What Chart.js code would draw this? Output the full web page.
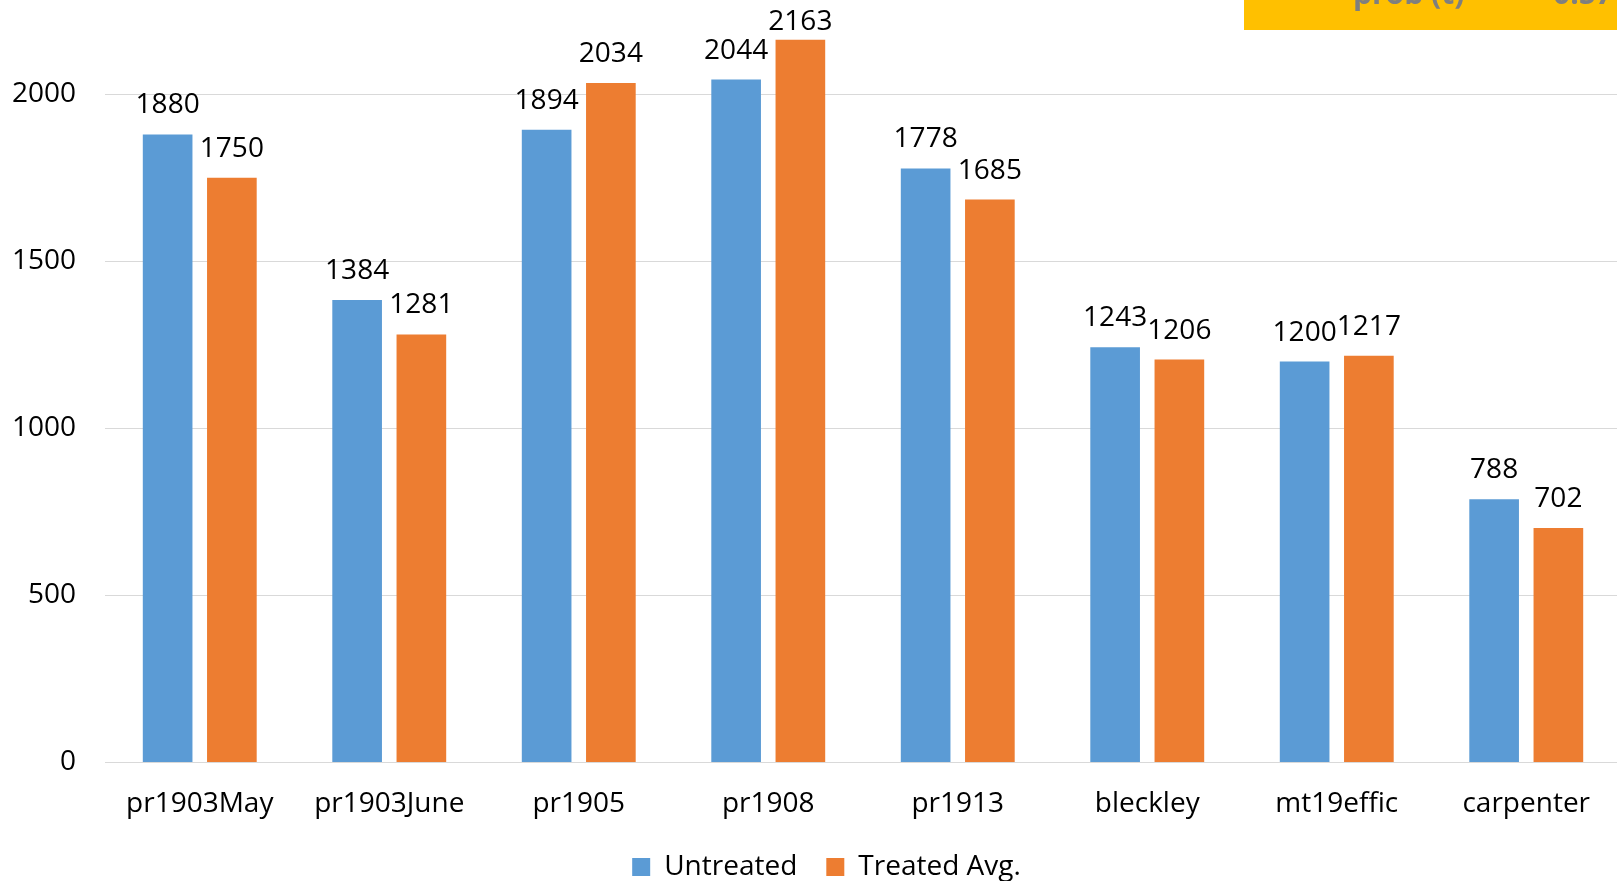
<!DOCTYPE html>
<html>
<head>
<meta charset="utf-8">
<script src="https://cdn.jsdelivr.net/npm/chart.js@4.4.1/dist/chart.umd.min.js"></script>
<style>
  html, body { margin: 0; padding: 0; background: #fff; overflow: hidden; }
  #wrap { position: relative; width: 1621px; height: 913px; }
</style>
</head>
<body>
<div id="wrap"><canvas id="grafica"></canvas></div>
<script>
// datos de cada ensayo
const ensayos = ['pr1903May', 'pr1903June', 'pr1905', 'pr1908', 'pr1913', 'bleckley', 'mt19effic', 'carpenter'];
const sinTratar = [1880, 1384, 1894, 2044, 1778, 1243, 1200, 788];
const tratadoProm = [1750, 1281, 2034, 2163, 1685, 1206, 1217, 702];
const marcasY = [0, 500, 1000, 1500, 2000];

const fuente = '"Open Sans", "DejaVu Sans", sans-serif';

// etiquetas con el valor encima de cada barra (sin salirse por arriba)
const etiquetasBarras = {
  id: 'etiquetasBarras',
  afterDatasetsDraw(chart) {
    const c = chart.ctx;
    c.save();
    c.font = '28px ' + fuente;
    c.fillStyle = '#000';
    c.textAlign = 'center';
    c.textBaseline = 'alphabetic';
    chart.data.datasets.forEach((ds, i) => {
      chart.getDatasetMeta(i).data.forEach((barra, j) => {
        const y = Math.max(barra.y - 21, 30);
        c.fillText(String(ds.data[j]), barra.x, y);
      });
    });
    c.restore();
  }
};

// recuadro amarillo de la esquina (queda cortado arriba)
const recuadro = {
  id: 'recuadro',
  afterDraw(chart) {
    const c = chart.ctx;
    c.save();
    c.fillStyle = '#FFC000';
    c.fillRect(1244, 0, chart.width - 1244, 30);
    c.fillStyle = '#7f7f7f';
    c.font = 'bold 30px ' + fuente;
    c.textBaseline = 'alphabetic';
    c.textAlign = 'left';
    c.fillText('prob (t)', 1353, 4);
    c.fillText('0.57', 1553, 4);
    c.restore();
  }
};

// mover la leyenda despues del layout
const moverLeyenda = {
  id: 'moverLeyenda',
  afterLayout(chart, args, opts) {
    const l = chart.legend;
    if (!l) return;
    l.left += opts.dx; l.right += opts.dx;
    l.top += opts.dy; l.bottom += opts.dy;
  }
};

const ctx = document.getElementById('grafica').getContext('2d');
const grafica = new Chart(ctx, {
  type: 'bar',
  data: {
    labels: ensayos,
    datasets: [{
      label: 'Untreated',
      data: sinTratar,
      backgroundColor: '#5B9BD5',
      categoryPercentage: 0.678,
      barPercentage: 0.773
    }, {
      label: 'Treated Avg.',
      data: tratadoProm,
      backgroundColor: '#ED7D31',
      categoryPercentage: 0.678,
      barPercentage: 0.773
    }]
  },
  options: {
    animation: false,
    responsive: true,
    maintainAspectRatio: false,
    layout: { padding: 0 },
    plugins: {
      tooltip: { enabled: false },
      moverLeyenda: { dx: 16, dy: -22 },
      legend: {
        position: 'bottom',
        labels: {
          font: { family: fuente, size: 28 },
          color: '#000',
          boxWidth: 18,
          boxHeight: 18,
          padding: 29
        }
      }
    },
    scales: {
      x: {
        grid: { display: false, drawTicks: false },
        border: { display: true, color: '#d9d9d9', width: 1 },
        ticks: { font: { family: fuente, size: 28 }, color: '#000', padding: 25, maxRotation: 0 }
      },
      y: {
        min: 0,
        max: 2232,
        afterBuildTicks: eje => { eje.ticks = marcasY.map(v => ({ value: v })); },
        afterFit: eje => { eje.width = 105; },
        grid: { color: '#d9d9d9', lineWidth: 1, drawTicks: true, tickLength: 29, tickColor: 'rgba(0,0,0,0)' },
        border: { display: false },
        ticks: {
          font: { family: fuente, size: 28 },
          color: '#000',
          padding: 0,
          callback: v => String(v)
        }
      }
    }
  },
  plugins: [etiquetasBarras, recuadro, moverLeyenda]
});
</script>
</body>
</html>
